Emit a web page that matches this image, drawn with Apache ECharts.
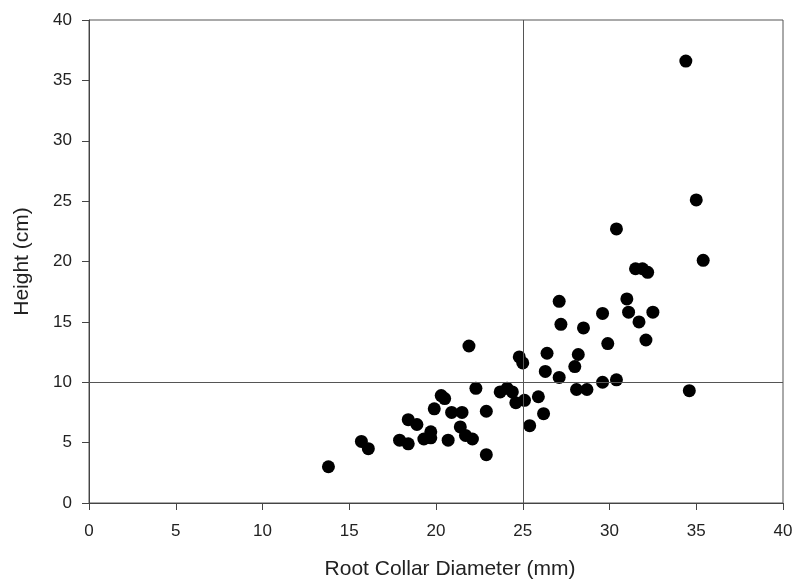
<!DOCTYPE html>
<html>
<head>
<meta charset="utf-8">
<script src="https://cdn.jsdelivr.net/npm/echarts@6/dist/echarts.min.js"></script>
<style>
  html, body { margin: 0; padding: 0; background: #fff; }
  #chart { width: 795px; height: 583px; }
</style>
</head>
<body>
<div id="chart"></div>
<script>
// root collar diameter (mm) and height (cm)
var diameter = [13.8, 15.7, 16.1, 17.9, 18.4, 18.4, 18.9, 19.3, 19.7, 19.7,
  19.9, 20.3, 20.5, 20.7, 20.9, 21.5, 21.4, 21.7, 22.1, 21.9,
  22.3, 22.9, 22.9, 23.7, 24.1, 24.4, 24.6, 25.1, 24.8, 25.0,
  25.9, 26.2, 25.4, 26.4, 26.3,
  30.4, 35.0, 35.4, 31.5, 31.9, 32.2, 27.1, 31.0, 29.6, 31.1,
  32.5, 31.7, 27.2, 28.5, 32.1, 29.9, 28.2, 28.0, 27.1, 29.6,
  30.4, 28.1, 28.7, 34.6, 34.4];
var height = [3.0, 5.1, 4.5, 5.2, 4.9, 6.9, 6.5, 5.3, 5.9, 5.4,
  7.8, 8.9, 8.65, 5.2, 7.5, 7.5, 6.3, 5.6, 5.3, 13.0,
  9.5, 7.6, 4.0, 9.2, 9.5, 9.2, 8.3, 8.5, 12.1, 11.6,
  8.8, 7.4, 6.4, 12.4, 10.9,
  22.7, 25.1, 20.1, 19.4, 19.4, 19.1, 16.7, 16.9, 15.7, 15.8,
  15.8, 15.0, 14.8, 14.5, 13.5, 13.2, 12.3, 11.3, 10.4, 10.0,
  10.2, 9.4, 9.4, 9.3, 36.6];
var refX = 25;
var refY = 10;

var points = diameter.map(function (d, i) { return [d, height[i]]; });

var chart = echarts.init(document.getElementById('chart'));
var font = 'Liberation Sans, Arial, sans-serif';
var axisCommon = {
  type: 'value',
  min: 0,
  max: 40,
  interval: 5,
  axisLine: { show: true, lineStyle: { color: '#444', width: 1 } },
  axisTick: { show: true, inside: false, length: 7, lineStyle: { color: '#444' } },
  splitLine: { show: false },
  nameLocation: 'middle',
  nameGap: 56,
  nameTextStyle: { color: '#222', fontSize: 21, fontFamily: font }
};
chart.setOption({
  animation: false,
  grid: {
    left: 89, right: 12, top: 20, bottom: 80,
    containLabel: false, outerBoundsMode: 'none',
    show: true, borderColor: '#555', borderWidth: 1
  },
  xAxis: Object.assign({}, axisCommon, {
    name: 'Root Collar Diameter (mm)',
    nameTextStyle: { color: '#222', fontSize: 21, fontFamily: font, padding: [0, 0, 0, 28] },
    axisLabel: { color: '#222', fontSize: 17, fontFamily: font, margin: 20 }
  }),
  yAxis: Object.assign({}, axisCommon, {
    name: 'Height (cm)',
    axisLabel: { color: '#222', fontSize: 17, fontFamily: font, margin: 17 }
  }),
  series: [{
    type: 'scatter',
    data: points,
    symbolSize: 13,
    itemStyle: { color: '#000', opacity: 1 },
    markLine: {
      silent: true,
      symbol: 'none',
      label: { show: false },
      lineStyle: { color: '#555', width: 1, type: 'solid' },
      data: [{ xAxis: refX }, { yAxis: refY }]
    }
  }]
});
</script>
</body>
</html>
